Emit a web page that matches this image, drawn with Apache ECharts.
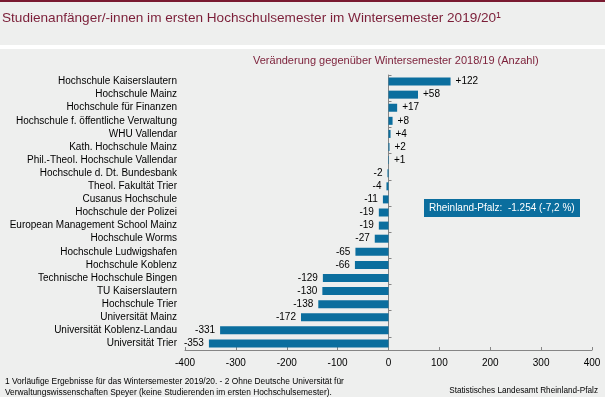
<!DOCTYPE html>
<html>
<head>
<meta charset="utf-8">
<script src="https://cdn.jsdelivr.net/npm/echarts@6/dist/echarts.min.js"></script>
<style>
  html, body { margin: 0; padding: 0; background: #eeefee; }
  #chart { width: 605px; height: 397px; }
</style>
</head>
<body>
<div id="chart"></div>
<script>
  // Hochschulen, sortiert wie im Original (oben nach unten)
  var categories = [
    'Hochschule Kaiserslautern', 'Hochschule Mainz', 'Hochschule für Finanzen',
    'Hochschule f. öffentliche Verwaltung', 'WHU Vallendar', 'Kath. Hochschule Mainz',
    'Phil.-Theol. Hochschule Vallendar', 'Hochschule d. Dt. Bundesbank', 'Theol. Fakultät Trier',
    'Cusanus Hochschule', 'Hochschule der Polizei', 'European Management School Mainz',
    'Hochschule Worms', 'Hochschule Ludwigshafen', 'Hochschule Koblenz',
    'Technische Hochschule Bingen', 'TU Kaiserslautern', 'Hochschule Trier',
    'Universität Mainz', 'Universität Koblenz-Landau', 'Universität Trier'
  ];
  var changes = [122, 58, 17, 8, 4, 2, 1, -2, -4, -11, -19, -19, -27, -65, -66, -129, -130, -138, -172, -331, -353];
  var xTicks = [-400, -300, -200, -100, 0, 100, 200, 300, 400];

  var titleText = 'Studienanfänger/-innen im ersten Hochschulsemester im Wintersemester 2019/20¹';
  var subTitleText = 'Veränderung gegenüber Wintersemester 2018/19 (Anzahl)';
  var boxText = 'Rheinland-Pfalz:  -1.254 (-7,2 %)';
  var footLine1 = '1 Vorläufige Ergebnisse für das Wintersemester 2019/20. - 2 Ohne Deutsche Universität für';
  var footLine2 = 'Verwaltungswissenschaften Speyer (keine Studierenden im ersten Hochschulsemester).';
  var sourceText = 'Statistisches Landesamt Rheinland-Pfalz';

  var blue = '#0b6e9e';
  var maroon = '#7b1e38';
  var font = '"Liberation Sans", Arial, sans-serif';

  var barData = changes.map(function (v) {
    return {
      value: v,
      label: {
        show: true,
        position: v >= 0 ? 'right' : 'left',
        distance: 5,
        formatter: v > 0 ? '+' + v : String(v)
      }
    };
  });

  var myChart = echarts.init(document.getElementById('chart'));
  var option = {
    backgroundColor: '#eeefee',
    animation: false,
    textStyle: { fontFamily: font },
    grid: { left: 185, right: 13, top: 75, bottom: 47 },
    xAxis: {
      type: 'value',
      min: xTicks[0],
      max: xTicks[xTicks.length - 1],
      interval: 100,
      splitLine: { show: false },
      axisLine: { show: true, lineStyle: { color: '#858585', width: 1 } },
      axisTick: { show: true, inside: true, length: 3, lineStyle: { color: '#858585' } },
      axisLabel: { color: '#000', fontSize: 10, margin: 8, fontFamily: font }
    },
    yAxis: [
      {
        type: 'category',
        data: categories,
        inverse: true,
        position: 'left',
        axisLine: { show: false, onZero: false },
        axisTick: { show: false },
        axisLabel: { color: '#000', fontSize: 10, margin: 8, fontFamily: font }
      },
      {
        // Nulllinie mit Teilstrichen
        type: 'category',
        data: categories,
        inverse: true,
        position: 'right',
        axisLine: { show: true, onZero: true, lineStyle: { color: '#858585' } },
        axisTick: { show: true, length: 3, lineStyle: { color: '#858585' } },
        axisLabel: { show: false }
      }
    ],
    series: [
      {
        type: 'bar',
        yAxisIndex: 0,
        data: barData,
        barWidth: 8,
        itemStyle: { color: blue },
        label: { color: '#000', fontSize: 10, fontFamily: font }
      }
    ],
    graphic: [
      { type: 'rect', left: 0, top: 0, shape: { width: 605, height: 2 }, style: { fill: '#7a1a30' }, silent: true },
      { type: 'rect', left: 0, top: 45, shape: { width: 605, height: 4 }, style: { fill: '#ffffff' }, silent: true },
      {
        type: 'text', left: 2, top: 11,
        style: { text: titleText, fill: maroon, fontSize: 13.6, fontFamily: font }
      },
      {
        type: 'text', left: 253, top: 55,
        style: { text: subTitleText, fill: maroon, fontSize: 11, fontFamily: font }
      },
      {
        type: 'group', left: 424, top: 199,
        children: [
          { type: 'rect', shape: { width: 156, height: 18 }, style: { fill: blue } },
          { type: 'text', left: 5, top: 4, style: { text: boxText, fill: '#fff', fontSize: 10, fontFamily: font } }
        ]
      },
      {
        type: 'text', left: 5, top: 376,
        style: { text: footLine1 + '\n' + footLine2, fill: '#000', fontSize: 8.4, lineHeight: 11, fontFamily: font }
      },
      {
        type: 'text', right: 7, top: 387,
        style: { text: sourceText, fill: '#000', fontSize: 8.2, fontFamily: font }
      }
    ]
  };
  myChart.setOption(option);
</script>
</body>
</html>
